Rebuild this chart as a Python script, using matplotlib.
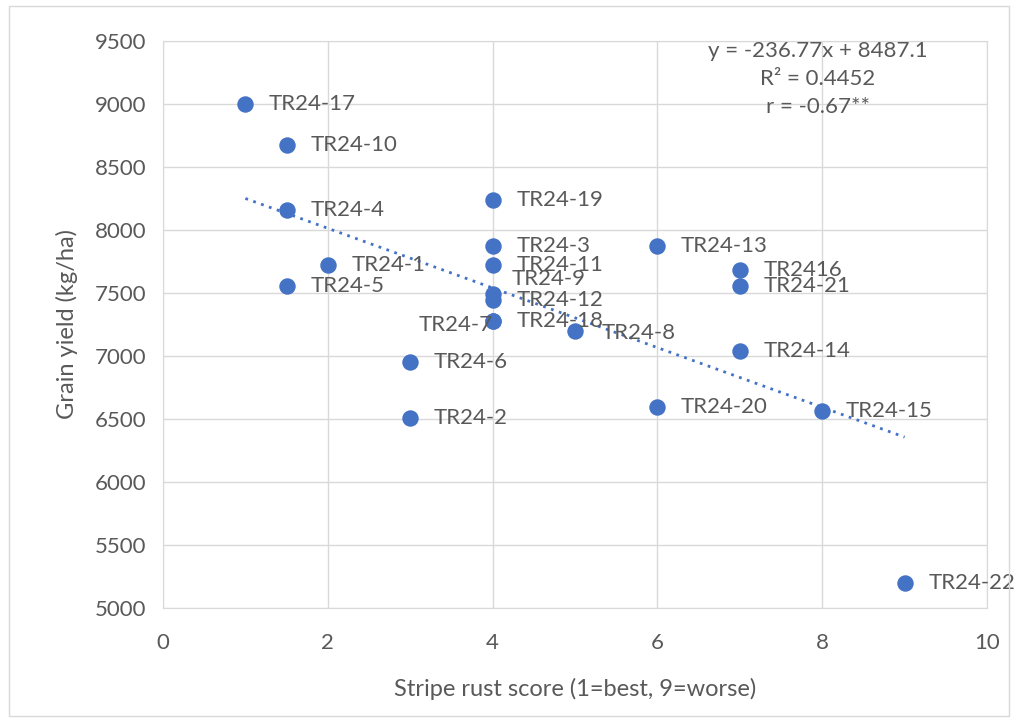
import matplotlib.pyplot as plt
from matplotlib.patches import Rectangle

plt.rcParams['font.family'] = ['Lato', 'DejaVu Sans']

names = ["TR24-17", "TR24-10", "TR24-4", "TR24-1", "TR24-5", "TR24-19", "TR24-3",
         "TR24-11", "TR24-9", "TR24-12", "TR24-7", "TR24-18", "TR24-8", "TR24-6",
         "TR24-2", "TR24-13", "TR24-20", "TR2416", "TR24-21", "TR24-14", "TR24-15",
         "TR24-22"]
rust = [1, 1.5, 1.5, 2, 1.5, 4, 4, 4, 4, 4, 4, 4, 5, 3, 3, 6, 6, 7, 7, 7, 8, 9]
yield_kg = [9000, 8675, 8160, 7720, 7555, 8235, 7875, 7720, 7490, 7445, 7280, 7280,
            7195, 6955, 6510, 7875, 6595, 7680, 7555, 7040, 6565, 5200]
slope = -236.77
intercept = 8487.1
r2 = 0.4452
r_txt = "-0.67**"

blue = "#4472C4"
gray = "#595959"
grid = "#D9D9D9"

fig = plt.figure(figsize=(10.18, 7.22), dpi=100)
fig.patches.append(Rectangle((0.009, 0.009), 0.982, 0.982, transform=fig.transFigure,
                             fill=False, edgecolor=grid, linewidth=1))
ax = fig.add_axes([163 / 1018, 1 - 608 / 722, (987 - 163) / 1018, (608 - 41) / 722])

ax.scatter(rust, yield_kg, s=140, color=blue, zorder=3, linewidths=0)

xs = [min(rust), max(rust)]
ax.plot(xs, [slope * x + intercept for x in xs], linestyle=(0, (1, 2)),
        color=blue, linewidth=2, zorder=2)

# label offsets in points (dx, dy, ha)
offsets = {"TR24-9": (14, 11, "left"), "TR24-7": (0, -3, "right"),
           "TR24-8": (19, -1, "left")}
for n, x, y in zip(names, rust, yield_kg):
    dx, dy, ha = offsets.get(n, (17, 0, "left"))
    ax.annotate(n, (x, y), xytext=(dx, dy), textcoords="offset points",
                ha=ha, va="center", fontsize=16, color=gray, zorder=4)

ax.text(0.795, 1.0, "y = -236.77x + 8487.1\nR² = %.4f\nr = %s" % (r2, r_txt),
        transform=ax.transAxes, ha="center", va="top", fontsize=16,
        color=gray, linespacing=1.5)

ax.set_xlim(0, 10)
ax.set_ylim(5000, 9500)
ax.set_xticks(range(0, 11, 2))
ax.set_yticks(range(5000, 9501, 500))
ax.grid(color=grid, linewidth=1)
ax.set_axisbelow(True)
for s in ax.spines.values():
    s.set_color(grid)
ax.tick_params(length=0, labelsize=16, colors=gray, pad=12)
ax.tick_params(axis="x", pad=18)
ax.set_xlabel("Stripe rust score (1=best, 9=worse)", fontsize=17, color=gray, labelpad=18)
ax.set_ylabel("Grain yield (kg/ha)", fontsize=17, color=gray, labelpad=12)

fig.savefig("out.png", dpi=100)
